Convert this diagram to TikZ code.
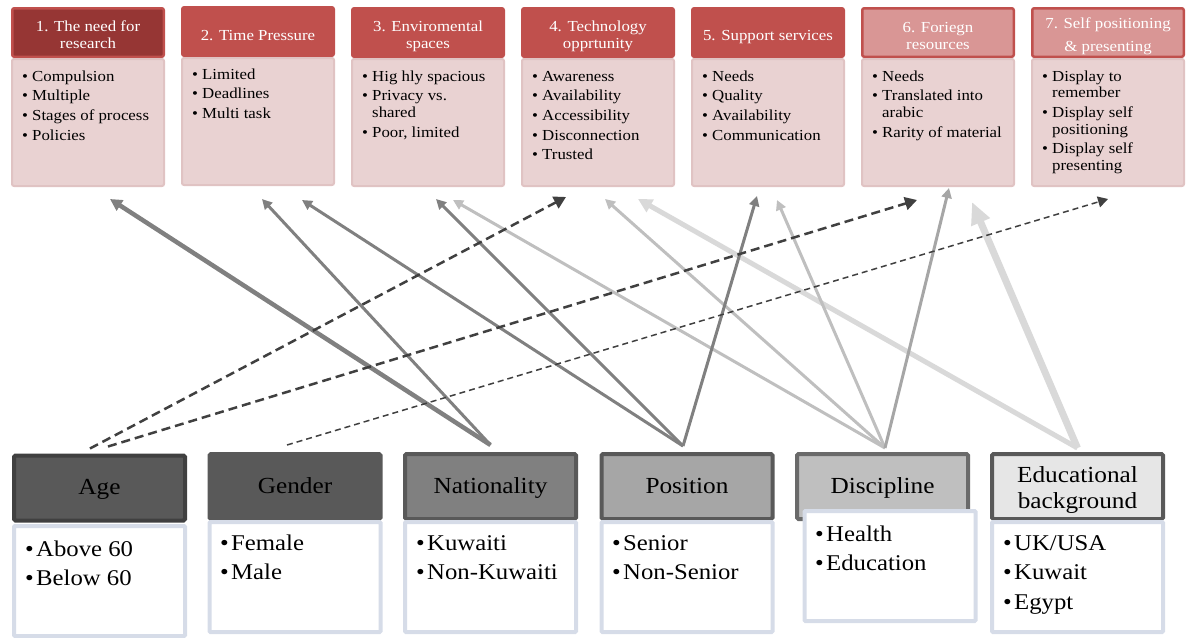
\documentclass[tikz,border=0pt]{standalone}
\usepackage{fontspec}
\setmainfont{Liberation Serif}[FakeStretch=1.1]
\usetikzlibrary{arrows.meta,calc}
\definecolor{redH}{RGB}{192,80,77}
\definecolor{redD}{RGB}{150,54,52}
\definecolor{redL}{RGB}{217,150,149}
\definecolor{bodyF}{RGB}{233,210,210}
\definecolor{bodyB}{RGB}{224,195,195}
\definecolor{blueB}{RGB}{214,220,232}
\definecolor{g64}{RGB}{64,64,64}
\definecolor{g89}{RGB}{89,89,89}
\definecolor{g128}{RGB}{128,128,128}
\definecolor{g166}{RGB}{166,166,166}
\definecolor{g191}{RGB}{191,191,191}
\definecolor{g217}{RGB}{217,217,217}
\definecolor{g230}{RGB}{230,230,230}
\newcommand\titem[1]{\par\hangindent=10pt\hangafter=1\noindent\hbox to 10pt{\textbullet\hss}#1}
\newcommand\bitem[1]{\par\noindent\hbox to 11pt{\textbullet\hss}#1}
\newcommand\tlist[1]{\parbox[t]{150pt}{\parskip=3pt\raggedright #1}}
\newcommand\blist[1]{\parbox[t]{160pt}{\parskip=0pt\raggedright #1}}
\newcommand\hs[1]{\rule{0pt}{#1}}
\newcommand\bs{\rule[-6pt]{0pt}{25pt}}
\begin{document}
\begin{tikzpicture}[x=1pt,y=-1pt,
  thdr/.style={draw=redH,fill=redH,line width=2.5pt,rounded corners=2pt,minimum width=151.5pt,minimum height=48.5pt,inner sep=0pt,text=white,align=center,font=\fontsize{15.3}{16.5}\selectfont},
  tbody/.style={draw=bodyB,fill=bodyF,line width=2pt,rounded corners=2pt,minimum width=152pt,minimum height=127pt,inner sep=0pt},
  ttext/.style={anchor=base west,inner sep=0pt,font=\fontsize{15.3}{16.7}\selectfont},
  bhdr/.style={draw=g89,line width=4pt,rounded corners=1.5pt,minimum width=171pt,minimum height=65pt,inner sep=0pt,align=center,font=\fontsize{23}{26}\selectfont},
  bbody/.style={draw=blueB,fill=white,line width=4pt,rounded corners=1pt,minimum width=171pt,minimum height=110pt,inner sep=0pt},
  btext/.style={anchor=base west,inner sep=0pt,font=\fontsize{22.5}{29.5}\selectfont},
  conn/.style={line width=3pt,-{Triangle[length=10pt,width=10pt]}},
  connA/.style={conn,line width=4.5pt,-{Triangle[length=12pt,width=12pt]}},
  connB/.style={conn,line width=5pt,-{Triangle[length=14pt,width=14pt]}},
  connC/.style={conn,line width=7pt,-{Triangle[length=22pt,width=19pt]}},
  dashA/.style={draw=g64,line width=2.5pt,dash pattern=on 9pt off 5pt,-{Triangle[length=12pt,width=13pt]}},
  dashB/.style={draw=g64,line width=1.5pt,dash pattern=on 6pt off 4pt,-{Triangle[length=10pt,width=11pt]}},
]
\useasboundingbox (0,0) rectangle (1188,637);

% ---------- top boxes ----------
\node[thdr,fill=redD] (h1) at (88,32.5) {\hs{15pt}1. The need for\\research};
\node[thdr] (h2) at (258,31.5) {\hs{17.5pt}2. Time Pressure};
\node[thdr] (h3) at (428,32.5) {\hs{18pt}3. Enviromental\\spaces};
\node[thdr] (h4) at (598,32.5) {\hs{18pt}4. Technology\\opprtunity};
\node[thdr] (h5) at (768,32.5) {\hs{19pt}5. Support services};
\node[thdr,fill=redL] (h6) at (938,32.5) {\hs{17pt}6. Foriegn\\resources};
\node[thdr,fill=redL] (h7) at (1108,32.5) {\hs{18pt}7. Self positioning\\[6pt]\& presenting};

\node[tbody] (b1) at (88,122.5) {};
\node[tbody] (b2) at (258,121.5) {};
\node[tbody] (b3) at (428,122.5) {};
\node[tbody] (b4) at (598,122.5) {};
\node[tbody] (b5) at (768,122.5) {};
\node[tbody] (b6) at (938,122.5) {};
\node[tbody] (b7) at (1108,122.5) {};

\node[ttext] (t1) at (22,81) {\tlist{\titem{Compulsion}\titem{Multiple}\titem{Stages of process}\titem{Policies}}};
\node[ttext] (t2) at (192,79) {\tlist{\titem{Limited}\titem{Deadlines}\titem{Multi task}}};
\node[ttext] (t3) at (362,81) {\tlist{\titem{Hig hly spacious}\titem{Privacy vs.\newline shared}\titem{Poor, limited}}};
\node[ttext] (t4) at (532,81) {\tlist{\titem{Awareness}\titem{Availability}\titem{Accessibility}\titem{Disconnection}\titem{Trusted}}};
\node[ttext] (t5) at (702,81) {\tlist{\titem{Needs}\titem{Quality}\titem{Availability}\titem{Communication}}};
\node[ttext] (t6) at (872,81) {\tlist{\titem{Needs}\titem{Translated into\newline arabic}\titem{Rarity of material}}};
\node[ttext] (t7) at (1042,81) {\tlist{\titem{Display to\newline remember}\titem{Display self\newline positioning}\titem{Display self\newline presenting}}};

% ---------- bottom boxes ----------
\node[bhdr,draw=g64,fill=g89] (age) at (99.5,488) {\bs Age};
\node[bhdr,fill=g89] (gen) at (295,486.5) {\bs Gender};
\node[bhdr,fill=g128] (nat) at (490.5,486.5) {\bs Nationality};
\node[bhdr,fill=g166] (pos) at (687,486.5) {\bs Position};
\node[bhdr,fill=g191,draw=g89!90!white] (dis) at (882.5,486.5) {\bs Discipline};
\node[bhdr,fill=g230] (edu) at (1077.5,486.5) {\hs{22pt}Educational\\background};

\node[bbody] (ageb) at (99.5,581) {};
\node[bbody] (genb) at (295,577) {};
\node[bbody] (natb) at (490.5,577) {};
\node[bbody] (posb) at (687,577) {};
\node[bbody] (disb) at (890,566) {};
\node[bbody] (edub) at (1077.5,577) {};

\node[btext] (agel) at (25,556) {\blist{\bitem{Above 60}\bitem{Below 60}}};
\node[btext] (genl) at (220,550) {\blist{\bitem{Female}\bitem{Male}}};
\node[btext] (natl) at (416,550) {\blist{\bitem{Kuwaiti}\bitem{Non-Kuwaiti}}};
\node[btext] (posl) at (612,550) {\blist{\bitem{Senior}\bitem{Non-Senior}}};
\node[btext] (disl) at (815,541) {\blist{\bitem{Health}\bitem{Education}}};
\node[btext] (edul) at (1003,550) {\blist{\bitem{UK/USA}\bitem{Kuwait}\bitem{Egypt}}};

% ---------- connector ends ----------
\coordinate (sAge1) at ($(age.north)+(-9.5,-5)$);
\coordinate (sAge2) at ($(age.north)+(8.5,-7)$);
\coordinate (sGen) at ($(gen.north)+(-8,-7)$);
\coordinate (sNat) at ($(nat.north)+(0,-7)$);
\coordinate (sPos) at ($(pos.north)+(-4,-6)$);
\coordinate (sDis) at ($(dis.north)+(2.5,-4)$);
\coordinate (sEdu) at ($(edu.north)+(0,-4)$);

\coordinate (e1) at (110,199);
\coordinate (e2a) at (262,199);
\coordinate (e2b) at (302,200);
\coordinate (e3a) at (436,199);
\coordinate (e3b) at (453,200);
\coordinate (e4a) at (566,197);
\coordinate (e4b) at (605,199);
\coordinate (e4c) at (638,199);
\coordinate (e5a) at (757,196);
\coordinate (e5b) at (777,200);
\coordinate (e6a) at (917,200);
\coordinate (e6b) at (949,188);
\coordinate (e7a) at (972,202);
\coordinate (e7b) at (1108,199);

% ---------- connectors ----------
\draw[connC,draw=g217] (sEdu) -- (e7a);
\draw[connB,draw=g217] (sEdu) -- (e4c);
\draw[conn,draw=g191] (sDis) -- (e3b);
\draw[conn,draw=g191] (sDis) -- (e4b);
\draw[conn,draw=g191] (sDis) -- (e5b);
\draw[conn,draw=g166] (sDis) -- (e6b);
\draw[conn,draw=g128] (sPos) -- (e2b);
\draw[conn,draw=g128] (sPos) -- (e3a);
\draw[conn,draw=g128] (sPos) -- (e5a);
\draw[connA,draw=g128] (sNat) -- (e1);
\draw[conn,draw=g128] (sNat) -- (e2a);
\draw[dashA] (sAge1) -- (e4a);
\draw[dashA] (sAge2) -- (e6a);
\draw[dashB] (sGen) -- (e7b);
\end{tikzpicture}
\end{document}
